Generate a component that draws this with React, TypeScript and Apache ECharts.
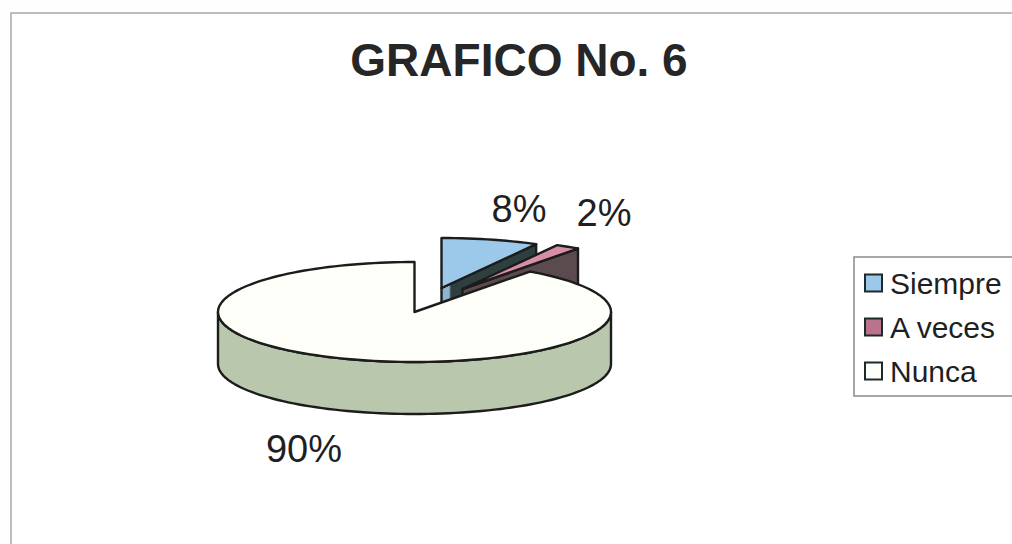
import React, { useEffect, useRef } from "react";
import * as echarts from "echarts";

const titleText = "GRAFICO No. 6";
const categories = ["Siempre", "A veces", "Nunca"];
const values = [8, 2, 90];

const topColors = ["#9cc9ea", "#d98ea8", "#fffffa"];
const faceColors = ["#2f3f3f", "#5b4a4e", "#b9c7ad"];
const legendColors = ["#9cc9ea", "#b9738c", "#fffffa"];
const outline = "#1c1c1c";

const CX = 414.5;
const CY = 312;
const RX = 196.5;
const RY = 50;
const DEPTH = 52;
const offsets = [
  [27, -24],
  [48, -23],
  [0, 0],
];
const labelPositions = [
  [519, 209],
  [604, 213],
  [304, 449],
];

const total = values.reduce((a, b) => a + b, 0);
const rad = (d: number) => (d * Math.PI) / 180;

function pt(cx: number, cy: number, deg: number, dz = 0) {
  return [cx + RX * Math.sin(rad(deg)), cy - RY * Math.cos(rad(deg)) + dz];
}

function arc(cx: number, cy: number, from: number, to: number, dz = 0) {
  const n = Math.max(2, Math.ceil(Math.abs(to - from) / 2));
  const out: number[][] = [];
  for (let i = 0; i <= n; i++) out.push(pt(cx, cy, from + ((to - from) * i) / n, dz));
  return out;
}

function sliceRenderer(index: number) {
  return (_params: any, api: any) => {
    const value = api.value(0) as number;
    const before = values.slice(0, index).reduce((a, b) => a + b, 0);
    const start = (before / total) * 360;
    const end = start + (value / total) * 360;
    const cx = CX + offsets[index][0];
    const cy = CY + offsets[index][1];
    const lineStyle = { stroke: outline, lineWidth: 2.4, lineJoin: "round" };
    const children: any[] = [];

    // radial cut face at the end of the slice (only when it faces the viewer)
    if (end < 90) {
      const c = pt(cx, cy, end);
      const fill =
        index === 0
          ? new echarts.graphic.LinearGradient(0, 0, 1, 0, [
              { offset: 0, color: "#8fb4cf" },
              { offset: 0.08, color: "#8fb4cf" },
              { offset: 0.1, color: faceColors[index] },
              { offset: 1, color: faceColors[index] },
            ])
          : faceColors[index];
      children.push({
        type: "polygon",
        shape: { points: [[cx, cy], c, [c[0], c[1] + DEPTH], [cx, cy + DEPTH]] },
        style: { fill, ...lineStyle },
      });
    }

    // outer wall, front half only
    const wallFrom = Math.max(start, 90);
    const wallTo = Math.min(end, 270);
    if (wallTo > wallFrom) {
      const pts = [...arc(cx, cy, wallFrom, wallTo), ...arc(cx, cy, wallTo, wallFrom, DEPTH)];
      children.push({
        type: "polygon",
        shape: { points: pts },
        style: { fill: faceColors[index], ...lineStyle },
      });
    }

    // top surface
    children.push({
      type: "polygon",
      shape: { points: [[cx, cy], ...arc(cx, cy, start, end)] },
      style: { fill: topColors[index], ...lineStyle },
    });

    children.push({
      type: "text",
      style: {
        text: `${value}%`,
        x: labelPositions[index][0],
        y: labelPositions[index][1],
        fill: "#1f1f1f",
        font: '38px "Liberation Sans", Arial, sans-serif',
        align: "center",
        verticalAlign: "middle",
      },
    });

    return { type: "group", children };
  };
}

export default function App() {
  const ref = useRef<HTMLDivElement>(null);

  useEffect(() => {
    if (!ref.current) return;
    const chart = echarts.init(ref.current, undefined, { renderer: "svg" });
    chart.setOption({
      animation: false,
      backgroundColor: "#fefefe",
      title: {
        text: titleText,
        left: 514,
        top: 32,
        textAlign: "center",
        textStyle: {
          fontFamily: '"Liberation Sans", Arial, sans-serif',
          fontWeight: "bold",
          fontSize: 46,
          color: "#262626",
        },
      },
      legend: {
        left: 854,
        top: 257,
        orient: "vertical",
        padding: [11, 40, 10, 10],
        backgroundColor: "#ffffff",
        borderColor: "#8a8a8a",
        borderWidth: 1.5,
        itemWidth: 17,
        itemHeight: 17,
        itemGap: 14,
        selectedMode: false,
        textStyle: {
          fontFamily: '"Liberation Sans", Arial, sans-serif',
          fontSize: 30,
          color: "#1f1f1f",
          padding: [0, 0, 0, 3],
        },
        data: categories.map((name, i) => ({
          name,
          icon: "rect",
          itemStyle: { color: legendColors[i], borderColor: "#1c2a2c", borderWidth: 2 },
        })),
      },
      graphic: [
        {
          type: "rect",
          silent: true,
          z: -1,
          shape: { x: 11, y: 13, width: 1040, height: 560 },
          style: { fill: "#ffffff", stroke: "#a8a8a8", lineWidth: 1.5 },
        },
      ],
      series: categories.map((name, i) => ({
        type: "custom",
        name,
        coordinateSystem: "none",
        itemStyle: { color: legendColors[i] },
        data: [[values[i]]],
        renderItem: sliceRenderer(i),
        z: 2 + i,
        silent: true,
      })),
    });
    return () => chart.dispose();
  }, []);

  return (
    <div
      ref={ref}
      style={{ position: "fixed", left: 0, top: 0, width: 1012, height: 544 }}
    />
  );
}
